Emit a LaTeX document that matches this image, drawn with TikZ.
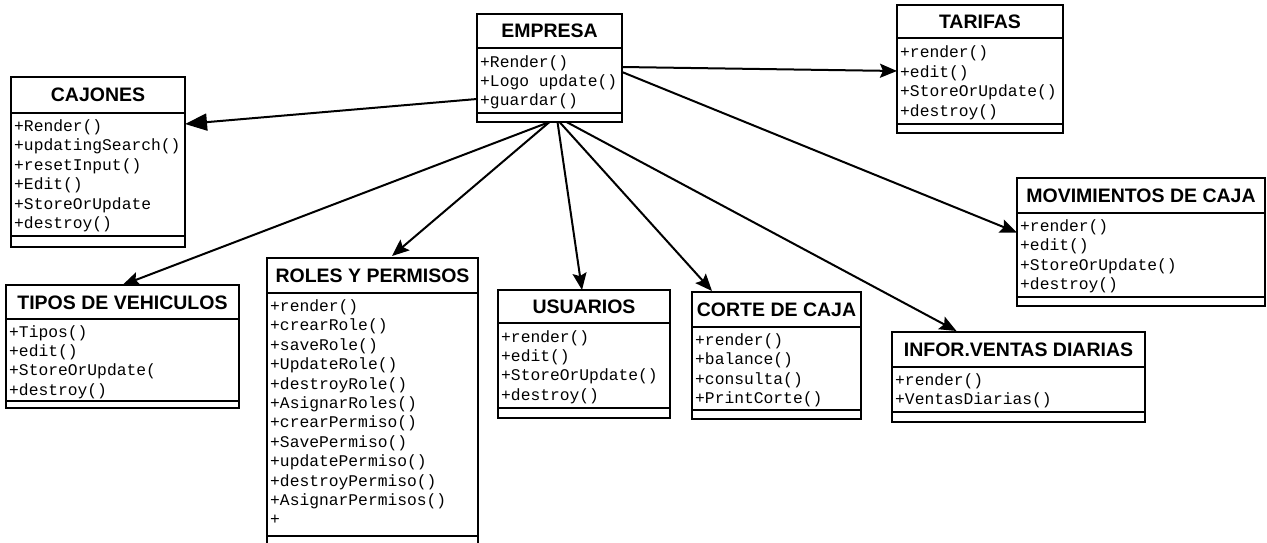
\documentclass[tikz,border=0pt]{standalone}
\usepackage{fontspec}
\setmainfont{Liberation Sans}
\newfontfamily\monof{Liberation Mono}
\usetikzlibrary{arrows.meta,calc}
\tikzset{
 cls/.style={draw=black, line width=2.5pt, fill=white, inner sep=0pt, outer sep=0pt, rectangle},
 sepl/.style={line width=2pt},
 ttl/.style={font=\bfseries\fontsize{19.5}{20}\selectfont, text height=14pt, text depth=0pt, inner sep=0pt},
 mth/.style={font=\monof\fontsize{16.3}{19.4}\selectfont, inner sep=0pt},
 link/.style={line width=2pt, -{Stealth[length=17pt,width=14pt,inset=3pt]}},
 biglink/.style={line width=2pt, -{Triangle[length=22pt,width=17pt]}},
}
% id, x, y, w, h, header height, separator offset, title
\newcommand{\UC}[8]{%
 \node[cls, minimum width=#4pt, minimum height=#5pt, anchor=north west] (#1) at (#2,#3) {};
 \draw[sepl] ([yshift=-#6pt]#1.north west) -- ([yshift=-#6pt]#1.north east);
 \draw[sepl] ([yshift=-#7pt]#1.north west) -- ([yshift=-#7pt]#1.north east);
 \node[ttl] (#1-t) at ([yshift=-#6pt/2]#1.north) {#8};
}
% id, first baseline offset, list of methods
\newcommand{\UM}[3]{%
 \foreach \t [count=\i] in {#3}{%
   \pgfmathsetmacro\yy{#2+(\i-1)*19.4}
   \node[mth, anchor=base west] (#1-m\i) at ([xshift=3pt, yshift=-\yy pt]#1.north west) {\t};
 }%
}
\begin{document}
\begin{tikzpicture}[x=1pt, y=-1pt]
\fill[white] (0,0) rectangle (1267,543);
\useasboundingbox (0,0) rectangle (1267,543);
\clip (0,0) rectangle (1267,543);

\UC{emp}{477}{14}{145}{108}{34}{99}{EMPRESA}
\UM{emp}{53}{{+Render()},{+Logo update()},{+guardar()}}

\UC{caj}{11}{77}{174}{170}{36}{159}{CAJONES}
\UM{caj}{54.5}{{+Render()},{+updatingSearch()},{+resetInput()},{+Edit()},{+StoreOrUpdate},{+destroy()}}

\UC{tar}{897}{5}{166}{128}{33}{119}{TARIFAS}
\UM{tar}{53}{{+render()},{+edit()},{+StoreOrUpdate()},{+destroy()}}

\UC{mov}{1017}{178}{248}{128}{35}{119}{MOVIMIENTOS DE CAJA}
\UM{mov}{53.5}{{+render()},{+edit()},{+StoreOrUpdate()},{+destroy()}}

\UC{tip}{6}{285}{233}{123}{34}{115.5}{TIPOS DE VEHICULOS}
\UM{tip}{52}{{+Tipos()},{+edit()},{+StoreOrUpdate(},{+destroy()}}

\UC{rol}{267}{258}{211}{300}{35}{278}{ROLES Y PERMISOS}
\UM{rol}{53.5}{{+render()},{+crearRole()},{+saveRole()},{+UpdateRole()},{+destroyRole()},{+AsignarRoles()},{+crearPermiso()},{+SavePermiso()},{+updatePermiso()},{+destroyPermiso()},{+AsignarPermisos()},{+}}

\UC{usu}{498}{290}{172}{128}{33}{117.5}{USUARIOS}
\UM{usu}{52}{{+render()},{+edit()},{+StoreOrUpdate()},{+destroy()}}

\UC{cor}{692}{292}{169}{127}{35}{118}{CORTE DE CAJA}
\UM{cor}{53.5}{{+render()},{+balance()},{+consulta()},{+PrintCorte()}}

\UC{inf}{892}{332}{253}{90}{35}{80}{INFOR.VENTAS DIARIAS}
\UM{inf}{53.5}{{+render()},{+VentasDiarias()}}

\draw[biglink] ([yshift=-31pt]emp.west) -- ([yshift=38pt]caj.east);
\draw[link] ([yshift=1pt]emp.east) -- ([yshift=-2pt]tar.west);
\draw[link] ([yshift=-4pt]emp.east) -- ([yshift=9.5pt]mov.west);
\draw[link] (emp.south) -- (tip.north);
\draw[link] (emp.south) -- ([xshift=19.5pt,yshift=2pt]rol.north);
\draw[link] ([xshift=8pt]emp.south) -- ([xshift=-2pt]usu.north);
\draw[link] ([xshift=10pt]emp.south) -- ([xshift=-64.5pt,yshift=1pt]cor.north);
\draw[link] ([xshift=17pt]emp.south) -- ([xshift=-62pt,yshift=1pt]inf.north);
\end{tikzpicture}
\end{document}
